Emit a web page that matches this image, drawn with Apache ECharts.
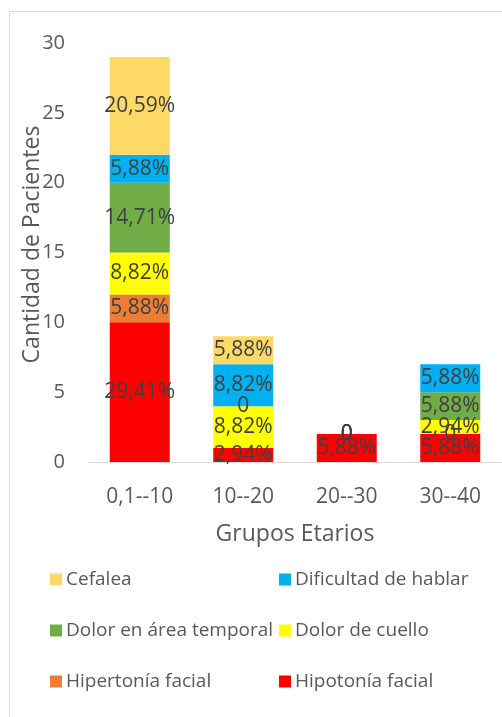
<!DOCTYPE html>
<html>
<head>
<meta charset="utf-8">
<script src="https://cdn.jsdelivr.net/npm/echarts@6/dist/echarts.min.js"></script>
<style>
  html, body { margin: 0; padding: 0; background: #fff; }
  #chart { width: 502px; height: 717px; }
</style>
</head>
<body>
<div id="chart"></div>
<script>
var categories = ["0,1--10", "10--20", "20--30", "30--40"];
var totalPacientes = 34;
// orden de apilado: de abajo hacia arriba
var hipotonia = [10, 1, 2, 2];
var hipertonia = [2, null, 0, 0];
var dolorCuello = [3, 3, 0, 1];
var dolorTemporal = [5, 0, 0, 2];
var dificultad = [2, 3, 0, 2];
var cefalea = [7, 2, null, null];
var yTicks = [0, 5, 10, 15, 20, 25, 30];

var stackSeries = [
  { name: "Hipotonía facial", data: hipotonia, color: "#FF0000" },
  { name: "Hipertonía facial", data: hipertonia, color: "#ED7D31" },
  { name: "Dolor de cuello", data: dolorCuello, color: "#FFFF00" },
  { name: "Dolor en área temporal", data: dolorTemporal, color: "#70AD47" },
  { name: "Dificultad de hablar", data: dificultad, color: "#00B0F0" },
  { name: "Cefalea", data: cefalea, color: "#FFD966" }
];

var font = "'Open Sans', 'Noto Sans', sans-serif";
var myChart = echarts.init(document.getElementById("chart"));

var series = stackSeries.map(function (s) {
  return {
    name: s.name,
    type: "bar",
    stack: "total",
    barWidth: 60,
    data: s.data,
    itemStyle: { color: s.color },
    label: {
      show: true,
      position: "inside",
      color: "#404040",
      fontSize: 21,
      fontFamily: font,
      formatter: function (p) {
        if (p.value === 0) return "0";
        return (p.value / totalPacientes * 100).toFixed(2).replace(".", ",") + "%";
      }
    }
  };
});

// leyenda en dos columnas
var legendPos = [
  { name: "Cefalea", left: 50, top: 570 },
  { name: "Dificultad de hablar", left: 279, top: 570 },
  { name: "Dolor en área temporal", left: 50, top: 621 },
  { name: "Dolor de cuello", left: 279, top: 621 },
  { name: "Hipertonía facial", left: 50, top: 672 },
  { name: "Hipotonía facial", left: 279, top: 672 }
];
var legends = legendPos.map(function (l) {
  return {
    data: [l.name],
    left: l.left,
    top: l.top,
    padding: 0,
    icon: "rect",
    itemWidth: 12,
    itemHeight: 12,
    itemGap: 5,
    textStyle: { color: "#595959", fontSize: 19, fontFamily: font, padding: [0, 0, 0, -1] }
  };
});

var option = {
  animation: false,
  graphic: [{
    type: "rect",
    shape: { x: 9.5, y: 11.5, width: 600, height: 800 },
    style: { fill: "none", stroke: "#d9d9d9", lineWidth: 1 }
  }],
  legend: legends,
  grid: {
    left: 88,
    right: -8,
    top: 43,
    bottom: 255
  },
  xAxis: {
    type: "category",
    data: categories,
    name: "Grupos Etarios",
    nameLocation: "middle",
    nameGap: 61,
    nameMoveOverlap: false,
    nameTextStyle: { color: "#595959", fontSize: 23, fontFamily: font },
    axisLine: { show: true, lineStyle: { color: "#d9d9d9", width: 1 } },
    axisTick: { show: false },
    axisLabel: { color: "#595959", fontSize: 21, fontFamily: font, margin: 25 }
  },
  yAxis: {
    type: "value",
    min: yTicks[0],
    max: yTicks[yTicks.length - 1],
    interval: 5,
    name: "Cantidad de Pacientes",
    nameLocation: "middle",
    nameGap: 44,
    nameMoveOverlap: false,
    nameTextStyle: { color: "#595959", fontSize: 23, fontFamily: font, padding: [0, 0, 0, 16] },
    axisLine: { show: false },
    axisTick: { show: false },
    splitLine: { show: false },
    axisLabel: { color: "#595959", fontSize: 20, fontFamily: font, margin: 23 }
  },
  series: series
};
myChart.setOption(option, true);
</script>
</body>
</html>
